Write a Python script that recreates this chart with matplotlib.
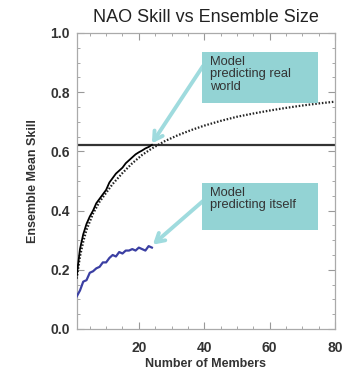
import matplotlib
matplotlib.use("Agg")
import matplotlib.pyplot as plt
from matplotlib.patches import Rectangle
from matplotlib.ticker import MultipleLocator

plt.rcParams['font.family'] = ['Liberation Sans', 'DejaVu Sans']

# Data
members = list(range(1, 25))
skill_real = [0.18, 0.27, 0.32, 0.355, 0.38, 0.40, 0.425, 0.44, 0.455, 0.47,
              0.495, 0.51, 0.525, 0.535, 0.545, 0.56, 0.57, 0.58, 0.59, 0.597,
              0.603, 0.61, 0.615, 0.622]
skill_self = [0.11, 0.13, 0.16, 0.165, 0.19, 0.195, 0.205, 0.21, 0.225, 0.225,
              0.24, 0.25, 0.245, 0.26, 0.255, 0.265, 0.265, 0.27, 0.265, 0.275,
              0.27, 0.265, 0.28, 0.275]
fit_members = [1, 2, 3, 4, 6, 8, 10, 12, 15, 18, 21, 24, 28, 32, 36, 40, 45, 50,
               55, 60, 65, 70, 75, 80]
fit_skill = [0.17, 0.245, 0.295, 0.335, 0.39, 0.43, 0.46, 0.49, 0.527, 0.56, 0.588,
             0.61, 0.635, 0.655, 0.672, 0.687, 0.703, 0.717, 0.728, 0.738,
             0.747, 0.755, 0.762, 0.768]
obs_skill = 0.622

title = "NAO Skill vs Ensemble Size"
xlabel = "Number of Members"
ylabel = "Ensemble Mean Skill"
label_real = "Model\npredicting real\nworld"
label_self = "Model\npredicting itself"

W, H = 363, 371
fig = plt.figure(figsize=(W / 100, H / 100), dpi=100)
ax = fig.add_axes([76.7 / W, 1 - 329 / H, (335 - 76.7) / W, (329 - 33) / H])

ax.axhline(obs_skill, color='#333333', lw=1.6, zorder=2)
ax.plot(fit_members, fit_skill, color='#222222', lw=1.6, ls=(0, (0.7, 0.8)), zorder=3)
ax.plot(members, skill_real, color='black', lw=1.3, zorder=4)
ax.plot(members, skill_self, color='#3b3fa3', lw=1.6, zorder=4)

ax.set_xlim(1, 80)
ax.set_ylim(0, 1)
ax.xaxis.set_major_locator(MultipleLocator(20))
ax.xaxis.set_minor_locator(MultipleLocator(5))
ax.yaxis.set_major_locator(MultipleLocator(0.2))
ax.yaxis.set_minor_locator(MultipleLocator(0.05))
ax.yaxis.set_major_formatter(matplotlib.ticker.FormatStrFormatter('%.1f'))
ax.tick_params(which='both', direction='in', top=True, right=True, color='#999999')
ax.tick_params(which='major', length=5, width=0.8, labelsize=10)
ax.tick_params(axis='x', which='major', pad=9)
ax.tick_params(axis='y', which='major', pad=5)
ax.tick_params(which='minor', length=2.5, width=0.6)
for lab in ax.get_xticklabels() + ax.get_yticklabels():
    lab.set_fontweight('bold')
    lab.set_color('#333333')
for s in ax.spines.values():
    s.set_color('#aaaaaa')
    s.set_linewidth(0.9)

ax.set_title(title, fontsize=13, color='#222222', pad=8)
ax.set_xlabel(xlabel, fontsize=9, fontweight='bold', color='#333333', labelpad=2)
ax.set_ylabel(ylabel, fontsize=9, fontweight='bold', color='#333333', labelpad=8)

box_color = '#93d3d4'
arrow_color = '#9fdbde'
for (x0, y0, x1, y1), txt in [((202, 52, 318, 103), label_real),
                              ((202, 183, 318, 230), label_self)]:
    fig.add_artist(Rectangle((x0 / W, 1 - y1 / H), (x1 - x0) / W, (y1 - y0) / H,
                             transform=fig.transFigure, facecolor=box_color,
                             edgecolor='none', zorder=5))
    fig.text((x0 + 8) / W, 1 - (y0 + 4) / H, txt, fontsize=9.3, color='#333333',
             va='top', ha='left', linespacing=1.05, zorder=6)

ax.annotate('', xy=(24, 0.627), xycoords='data',
            xytext=(203 / W, 1 - 66 / H), textcoords='figure fraction',
            arrowprops=dict(arrowstyle='->,head_length=0.6,head_width=0.35',
                            color=arrow_color, lw=2.8, shrinkA=0, shrinkB=0),
            zorder=7)
ax.annotate('', xy=(24.3, 0.285), xycoords='data',
            xytext=(203 / W, 1 - 201 / H), textcoords='figure fraction',
            arrowprops=dict(arrowstyle='->,head_length=0.6,head_width=0.35',
                            color=arrow_color, lw=2.8, shrinkA=0, shrinkB=0),
            zorder=7)

fig.savefig('out.png', dpi=100)
